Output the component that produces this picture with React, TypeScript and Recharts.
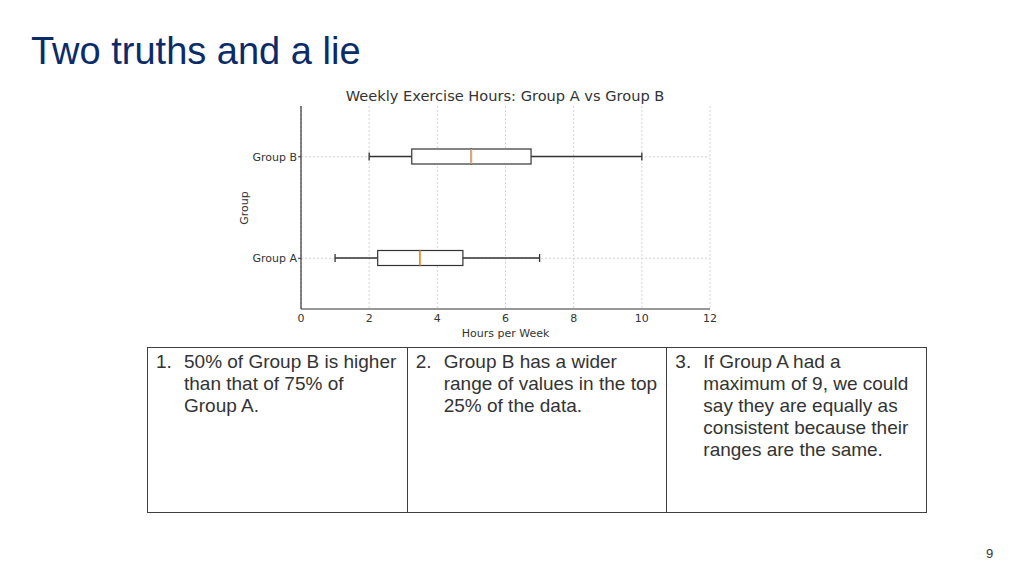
import React from 'react';
import { ComposedChart, Bar, XAxis, YAxis, CartesianGrid } from 'recharts';

// box plot stats (hours per week)
const groups = ['Group B', 'Group A'];
const minValues = [2, 1];
const q1Values = [3.25, 2.25];
const medianValues = [5, 3.5];
const q3Values = [6.75, 4.75];
const maxValues = [10, 7];
const xTicks = [0, 2, 4, 6, 8, 10, 12];

const statementNumbers = ['1.', '2.', '3.'];
const statementLines = [
  ['50% of Group B is higher', 'than that of 75% of', 'Group A.'],
  ['Group B has a wider', 'range of values in the top', '25% of the data.'],
  ['If Group A had a', 'maximum of 9, we could', 'say they are equally as', 'consistent because their', 'ranges are the same.'],
];

const INK = '#333333';
const MEDIAN = '#f5a25d';
const GRID = '#d4d4d4';
const CHART_FONT = '"DejaVu Sans", sans-serif';
const SLIDE_FONT = '"Liberation Sans", Arial, sans-serif';

// stacked segments: offset -> lower whisker -> box low half -> box high half -> upper whisker
const data = groups.map((name, i) => ({
  name,
  base: minValues[i],
  lowWhisker: q1Values[i] - minValues[i],
  lowBox: medianValues[i] - q1Values[i],
  highBox: q3Values[i] - medianValues[i],
  highWhisker: maxValues[i] - q3Values[i],
}));

const LowWhisker = (props: any) => {
  const { x, y, width, height } = props;
  const cy = y + height / 2;
  return (
    <g>
      <line x1={x} x2={x + width} y1={cy} y2={cy} stroke={INK} strokeWidth={1.3} />
      <line x1={x} x2={x} y1={cy - 4} y2={cy + 4} stroke={INK} strokeWidth={1.3} />
    </g>
  );
};

const HighWhisker = (props: any) => {
  const { x, y, width, height } = props;
  const cy = y + height / 2;
  return (
    <g>
      <line x1={x} x2={x + width} y1={cy} y2={cy} stroke={INK} strokeWidth={1.3} />
      <line x1={x + width} x2={x + width} y1={cy - 4} y2={cy + 4} stroke={INK} strokeWidth={1.3} />
    </g>
  );
};

const LowBox = (props: any) => {
  const { x, y, width, height } = props;
  return (
    <g>
      <rect x={x} y={y} width={width} height={height} fill="#fff" stroke={INK} strokeWidth={1.2} />
      <line x1={x + width} x2={x + width} y1={y} y2={y + height} stroke={MEDIAN} strokeWidth={1.5} />
    </g>
  );
};

const HighBox = (props: any) => {
  const { x, y, width, height } = props;
  return (
    <g>
      <rect x={x} y={y} width={width} height={height} fill="#fff" stroke={INK} strokeWidth={1.2} />
      <line x1={x} x2={x} y1={y} y2={y + height} stroke={MEDIAN} strokeWidth={1.5} />
    </g>
  );
};

function BoxChart() {
  return (
    <div style={{ position: 'absolute', left: 220, top: 80, width: 510, height: 270 }}>
      <div
        style={{
          position: 'absolute', left: 0, width: 570, top: 8, textAlign: 'center',
          fontFamily: CHART_FONT, fontSize: 14.6, color: INK, lineHeight: '16px',
        }}
      >
        Weekly Exercise Hours: Group A vs Group B
      </div>
      <div
        style={{
          position: 'absolute', left: 24, top: 128, width: 0, height: 0,
          fontFamily: CHART_FONT, fontSize: 11, color: INK,
        }}
      >
        <div style={{ position: 'absolute', transform: 'translate(-50%, -50%) rotate(-90deg)', whiteSpace: 'nowrap' }}>
          Group
        </div>
      </div>
      <ComposedChart
        width={510}
        height={270}
        data={data}
        layout="vertical"
        barSize={15}
        margin={{ top: 26, right: 20, left: 21, bottom: 11 }}
      >
        <CartesianGrid strokeDasharray="2 2" stroke={GRID} syncWithTicks />
        <XAxis
          type="number"
          domain={[0, 12]}
          ticks={xTicks}
          height={30}
          tickSize={5}
          tickMargin={0}
          axisLine={{ stroke: INK, strokeWidth: 1.2 }}
          tickLine={false}
          tick={{ fontSize: 11, fill: INK, fontFamily: CHART_FONT }}
          label={{ value: 'Hours per Week', position: 'insideBottom', offset: 2, fontSize: 11, fill: INK, fontFamily: CHART_FONT }}
        />
        <YAxis
          type="category"
          dataKey="name"
          width={60}
          tickSize={3}
          tickMargin={1}
          axisLine={{ stroke: INK, strokeWidth: 1.2 }}
          tickLine={{ stroke: INK }}
          tick={{ fontSize: 11, fill: INK, fontFamily: CHART_FONT }}
        />
        <Bar dataKey="base" stackId="box" fill="transparent" isAnimationActive={false} />
        <Bar dataKey="lowWhisker" stackId="box" shape={LowWhisker} isAnimationActive={false} />
        <Bar dataKey="lowBox" stackId="box" shape={LowBox} isAnimationActive={false} />
        <Bar dataKey="highBox" stackId="box" shape={HighBox} isAnimationActive={false} />
        <Bar dataKey="highWhisker" stackId="box" shape={HighWhisker} isAnimationActive={false} />
      </ComposedChart>
    </div>
  );
}

export default function App() {
  return (
    <div style={{ position: 'absolute', left: 0, top: 0, width: 1024, height: 575, background: '#fff', overflow: 'hidden' }}>
      <div
        style={{
          position: 'absolute', left: 31, top: 29, fontFamily: SLIDE_FONT, fontSize: 38,
          color: '#0b2b69', lineHeight: '44px', whiteSpace: 'nowrap',
        }}
      >
        Two truths and a lie
      </div>

      <BoxChart />

      <div
        style={{
          position: 'absolute', left: 147, top: 347, width: 780, height: 166,
          boxSizing: 'border-box', border: '1px solid #3f3f3f', display: 'flex',
        }}
      >
        {statementLines.map((lines, i) => (
          <div
            key={i}
            style={{
              position: 'relative', flex: 1, height: '100%',
              borderLeft: i > 0 ? '1px solid #3f3f3f' : 'none',
              fontFamily: SLIDE_FONT, fontSize: 19, lineHeight: '22px', color: '#333',
            }}
          >
            <div style={{ position: 'absolute', left: 8, top: 3 }}>{statementNumbers[i]}</div>
            <div style={{ position: 'absolute', left: 36, top: 3, whiteSpace: 'nowrap' }}>
              {lines.map((line, j) => (
                <div key={j}>{line}</div>
              ))}
            </div>
          </div>
        ))}
      </div>

      <div
        style={{
          position: 'absolute', left: 986, top: 546, fontFamily: SLIDE_FONT, fontSize: 13, color: '#333',
        }}
      >
        9
      </div>
    </div>
  );
}
